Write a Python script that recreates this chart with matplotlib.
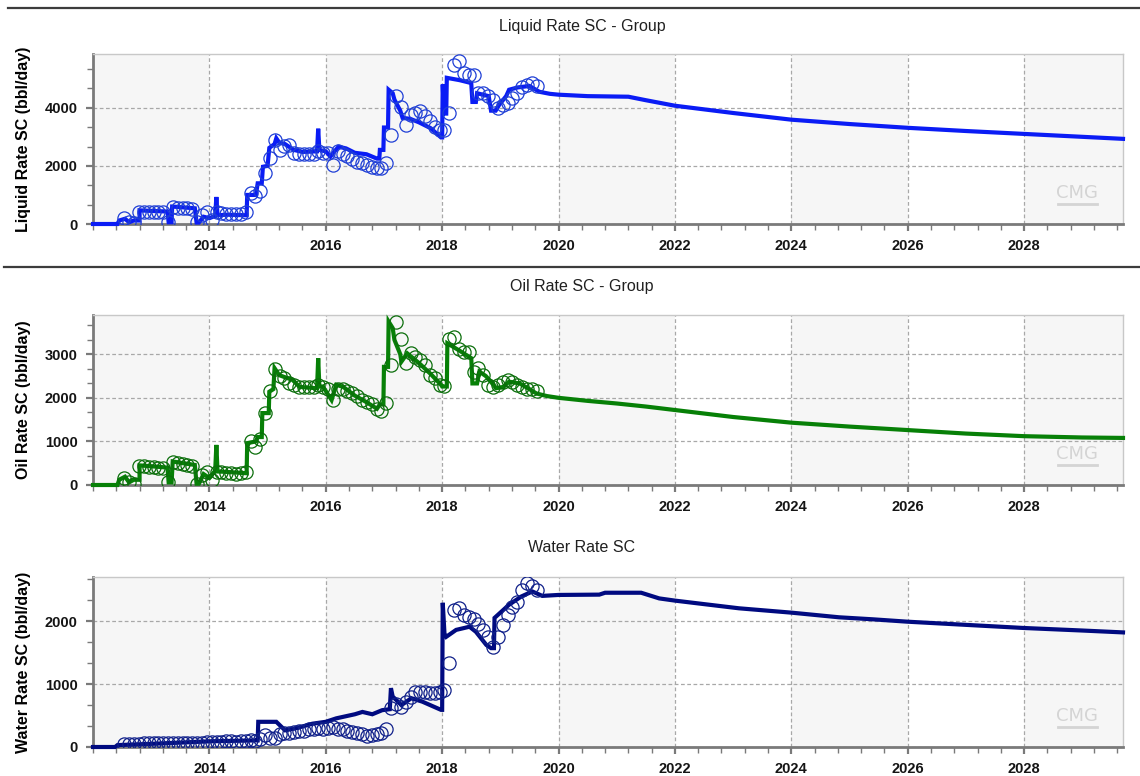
import numpy as np
import matplotlib
matplotlib.use("Agg")
import matplotlib.pyplot as plt
from matplotlib.ticker import MultipleLocator, FixedLocator
from matplotlib.lines import Line2D

# ---------------- data ----------------
obs_start = 2012.54          # first monthly observation (Jul 2012)

liquid_obs = [200, 80, 20, 430, 430, 420,
              420, 410, 420, 80, 600, 560, 550, 540, 500, 80, 300, 400,
              150, 400, 380, 350, 340, 330, 350, 400, 1060, 950, 1120, 1750,
              2260, 2900, 2550, 2670, 2720, 2430, 2410, 2400, 2410, 2420, 2500, 2450,
              2430, 2040, 2500, 2400, 2330, 2250, 2150, 2090, 2040, 1950, 1920, 1930,
              2090, 3070, 4390, 4040, 3420, 3760, 3820, 3880, 3700, 3530, 3350, 3240,
              3240, 3820, 5480, 5600, 5200, 5140, 5140, 4510, 4510, 4400, 4280, 4000,
              4100, 4160, 4330, 4510, 4700, 4800, 4850, 4740]

oil_obs = [150, 60, 20, 440, 430, 420,
           410, 400, 390, 60, 520, 500, 490, 470, 440, 30, 220, 290,
           120, 300, 290, 280, 270, 260, 270, 300, 1000, 880, 1050, 1650,
           2150, 2650, 2500, 2450, 2350, 2300, 2250, 2250, 2250, 2250, 2300, 2250,
           2200, 1950, 2200, 2200, 2150, 2100, 2050, 1950, 1900, 1850, 1750, 1700,
           1880, 2750, 3750, 3360, 2810, 3020, 2940, 2870, 2750, 2520, 2450, 2300,
           2260, 3360, 3400, 3130, 3060, 3050, 2600, 2680, 2520, 2290, 2250, 2300,
           2370, 2400, 2370, 2300, 2250, 2200, 2195, 2150]

water_obs = [50, 50, 40, 50, 60, 60,
             60, 60, 70, 60, 70, 70, 70, 70, 70, 60, 70, 80,
             80, 80, 80, 90, 90, 80, 90, 100, 110, 100, 130, 190,
             150, 140, 200, 220, 230, 240, 250, 260, 280, 290, 300, 290,
             300, 310, 290, 280, 260, 240, 220, 200, 180, 190, 200, 220,
             280, 620, 680, 640, 720, 800, 880, 880, 870, 860, 860, 880,
             900, 1330, 2180, 2200, 2100, 2070, 2040, 1950, 1860, 1750, 1590, 1750,
             1940, 2100, 2230, 2300, 2500, 2600, 2550, 2500]

liquid_sim_t = [2012.0, 2012.42, 2012.45, 2012.55, 2012.62, 2012.7, 2012.8, 2012.8, 2013.0, 2013.28,
                2013.3, 2013.35, 2013.36, 2013.5, 2013.75, 2013.78, 2013.82, 2013.9, 2014.0, 2014.1,
                2014.12, 2014.14, 2014.3, 2014.64, 2014.65, 2014.8, 2014.83, 2014.9, 2014.92, 2015.0,
                2015.03, 2015.12, 2015.15, 2015.2, 2015.3, 2015.45, 2015.6, 2015.85, 2015.87, 2015.89,
                2016.0, 2016.08, 2016.15, 2016.22, 2016.35, 2016.5, 2016.7, 2016.88, 2016.92, 2016.93,
                2016.99, 2017.0, 2017.07, 2017.08, 2017.15, 2017.18, 2017.28, 2017.32, 2017.45, 2017.6,
                2017.8, 2017.98, 2018.0, 2018.01, 2018.03, 2018.07, 2018.08, 2018.3, 2018.5, 2018.52,
                2018.58, 2018.6, 2018.8, 2018.84, 2018.92, 2018.98, 2019.1, 2019.15, 2019.3, 2019.5,
                2019.67, 2019.85, 2020.0, 2020.5, 2021.2, 2021.5, 2022.0, 2023.0, 2024.0, 2025.0,
                2026.0, 2027.0, 2028.0, 2029.0, 2029.7]
liquid_sim_v = [0, 0, 120, 180, 60, 120, 120, 470, 450, 430,
                60, 60, 600, 580, 540, 50, 50, 250, 200, 280,
                930, 300, 320, 300, 1000, 1000, 1400, 1400, 1970, 2000,
                2620, 2750, 2950, 2800, 2750, 2550, 2480, 2500, 3280, 2550,
                2500, 2320, 2500, 2660, 2600, 2450, 2400, 2250, 2250, 2550,
                2550, 3320, 3320, 4620, 4500, 4280, 3900, 3650, 3620, 3500,
                3300, 2980, 2980, 4800, 3800, 3800, 5030, 4950, 4850, 4200,
                4200, 4500, 4400, 3900, 3900, 4100, 4400, 4620, 4700, 4750,
                4550, 4480, 4450, 4400, 4380, 4260, 4070, 3820, 3590, 3440,
                3310, 3200, 3100, 3000, 2930]

oil_sim_t = [2012.0, 2012.42, 2012.45, 2012.55, 2012.62, 2012.7, 2012.8, 2012.8, 2013.0, 2013.28,
             2013.3, 2013.35, 2013.37, 2013.5, 2013.75, 2013.78, 2013.82, 2013.9, 2014.0, 2014.1,
             2014.12, 2014.14, 2014.3, 2014.64, 2014.65, 2014.8, 2014.83, 2014.9, 2014.91, 2015.02,
             2015.03, 2015.1, 2015.12, 2015.2, 2015.43, 2015.55, 2015.85, 2015.87, 2015.89, 2015.95,
             2016.1, 2016.18, 2016.3, 2016.5, 2016.7, 2016.88, 2016.93, 2016.99, 2017.0, 2017.07,
             2017.08, 2017.15, 2017.18, 2017.28, 2017.3, 2017.4, 2017.6, 2017.8, 2017.98, 2018.0,
             2018.08, 2018.09, 2018.3, 2018.5, 2018.52, 2018.6, 2018.64, 2018.75, 2018.81, 2018.93,
             2019.05, 2019.15, 2019.33, 2019.5, 2019.62, 2019.8, 2020.0, 2020.5, 2021.0, 2021.5,
             2022.0, 2023.0, 2024.0, 2025.0, 2026.0, 2027.0, 2028.0, 2029.0, 2029.7]
oil_sim_v = [0, 0, 120, 190, 60, 120, 120, 450, 430, 400,
             60, 60, 540, 510, 460, 30, 30, 250, 160, 330,
             920, 310, 300, 270, 960, 1000, 1100, 1100, 1650, 1650,
             2140, 2200, 2680, 2520, 2410, 2250, 2220, 2910, 2260, 2260,
             1950, 2300, 2250, 2050, 1900, 1750, 1850, 1850, 2710, 2710,
             3750, 3600, 3330, 3000, 2830, 3020, 2800, 2550, 2300, 2260,
             2260, 3250, 3080, 2910, 2330, 2330, 2600, 2500, 2410, 2220,
             2250, 2370, 2330, 2200, 2100, 2040, 2000, 1930, 1870, 1800,
             1720, 1560, 1430, 1340, 1260, 1180, 1120, 1090, 1080]

water_sim_t = [2012.0, 2012.38, 2012.42, 2013.0, 2014.0, 2014.8, 2014.83, 2014.84, 2015.15, 2015.3,
               2015.5, 2015.77, 2016.0, 2016.18, 2016.5, 2016.63, 2016.8, 2016.97, 2017.1, 2017.12,
               2017.15, 2017.18, 2017.3, 2017.47, 2017.66, 2017.98, 2018.0, 2018.01, 2018.04, 2018.07,
               2018.24, 2018.47, 2018.58, 2018.76, 2018.84, 2018.89, 2018.9, 2019.15, 2019.36, 2019.55,
               2019.72, 2020.0, 2020.7, 2020.8, 2021.42, 2021.73, 2022.0, 2022.53, 2023.1, 2024.0,
               2024.82, 2025.4, 2026.0, 2027.0, 2028.0, 2029.0, 2029.7]
water_sim_v = [0, 0, 30, 50, 90, 105, 105, 400, 400, 265,
               300, 370, 400, 455, 520, 557, 520, 585, 600, 935,
               800, 775, 665, 775, 720, 590, 590, 2290, 1800, 1750,
               1860, 1910, 1830, 1620, 1570, 1570, 2050, 2260, 2390, 2470,
               2400, 2415, 2420, 2450, 2450, 2360, 2325, 2266, 2203, 2134,
               2060, 2028, 1990, 1940, 1890, 1850, 1820]

titles = ["Liquid Rate SC - Group", "Oil Rate SC - Group", "Water Rate SC"]
ylabels = ["Liquid Rate SC (bbl/day)", "Oil Rate SC (bbl/day)", "Water Rate SC (bbl/day)"]
x_major = [2014, 2016, 2018, 2020, 2022, 2024, 2026, 2028]

# ---------------- styling ----------------
plt.rcParams['font.family'] = ['Liberation Sans', 'DejaVu Sans']

W, H = 1140, 776
fig = plt.figure(figsize=(W / 100, H / 100), dpi=100)

panels = [
    dict(top=54, obs=liquid_obs, st=liquid_sim_t, sv=liquid_sim_v, color='#0a1cf5', mcolor='#1f3fd6',
         ymax=5850, ymajor=2000, yminor=2000 / 3),
    dict(top=315, obs=oil_obs, st=oil_sim_t, sv=oil_sim_v, color='#078007', mcolor='#0b6e0b',
         ymax=3900, ymajor=1000, yminor=1000 / 3),
    dict(top=577, obs=water_obs, st=water_sim_t, sv=water_sim_v, color='#000a80', mcolor='#10208a',
         ymax=2700, ymajor=1000, yminor=1000 / 3),
]
title_y = [26, 287, 548]

left_px, right_px, h_px = 93, 1123, 170
xmin, xmax = 2012.0, 2029.7

for i, p in enumerate(panels):
    ax = fig.add_axes([left_px / W, 1 - (p['top'] + h_px) / H, (right_px - left_px) / W, h_px / H])
    ax.set_facecolor('white')
    # alternating background bands
    edges = [xmin] + x_major + [xmax]
    for k in range(len(edges) - 1):
        if k % 2 == 0:
            ax.axvspan(edges[k], edges[k + 1], color='#f6f6f6', lw=0, zorder=0)
    ax.set_xlim(xmin, xmax)
    ax.set_ylim(0, p['ymax'])

    ax.xaxis.set_major_locator(FixedLocator(x_major))
    ax.xaxis.set_minor_locator(MultipleLocator(0.4))
    ax.set_xticklabels([str(v) for v in x_major])
    ax.yaxis.set_major_locator(MultipleLocator(p['ymajor']))
    ax.yaxis.set_minor_locator(MultipleLocator(p['yminor']))

    ax.grid(True, which='major', color='#a8a8a8', ls=(0, (3, 2)), lw=0.9, zorder=1)
    ax.set_axisbelow(True)

    for s in ['top', 'right']:
        ax.spines[s].set_color('#c8c8c8')
        ax.spines[s].set_linewidth(1.0)
    for s in ['left', 'bottom']:
        ax.spines[s].set_color('#7a7a7a')
        ax.spines[s].set_linewidth(2.0)

    ax.tick_params(which='major', direction='out', length=5, width=1.6, color='#7a7a7a',
                   labelsize=10.5, pad=6)
    ax.tick_params(which='minor', direction='out', length=4, width=1.0, color='#7a7a7a')
    for lab in ax.get_xticklabels() + ax.get_yticklabels():
        lab.set_fontweight('bold')
        lab.set_color('#151515')

    obs_t = obs_start + np.arange(len(p['obs'])) / 12.0
    ax.plot(p['st'], p['sv'], color=p['color'], lw=3.0, solid_joinstyle='miter', zorder=3,
            clip_on=False)
    ax.plot(obs_t, p['obs'], ls='none', marker='o', ms=9.5, mfc='none', mec=p['mcolor'],
            mew=0.9, zorder=4)

    ax.set_ylabel(ylabels[i], fontsize=11.5, fontweight='bold', labelpad=6)
    ax.yaxis.set_label_coords(-0.06, 0.5)

    # watermark
    ax.text(0.955, 0.13, 'CMG', transform=ax.transAxes, ha='center', va='bottom',
            fontsize=13, color='#d4d4d4', zorder=2, family='Liberation Sans Narrow')
    ax.plot([0.937, 0.975], [0.115, 0.115], transform=ax.transAxes, color='#d4d4d4', lw=2.0,
            zorder=2)

    fig.text(582 / W, 1 - title_y[i] / H, titles[i], ha='center', va='center', fontsize=11.5,
             color='#202020')

# separator lines
fig.add_artist(Line2D([8 / W, 1.0], [1 - 8 / H, 1 - 8 / H], transform=fig.transFigure,
                      color='#3c3c3c', lw=1.6))
fig.add_artist(Line2D([4 / W, 1.0], [1 - 267 / H, 1 - 267 / H], transform=fig.transFigure,
                      color='#3c3c3c', lw=1.6))

fig.savefig('out.png', dpi=100)
